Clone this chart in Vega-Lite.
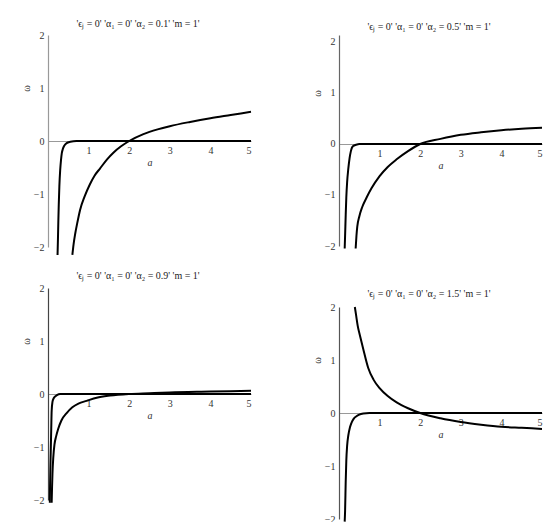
{
  "$schema": "https://vega.github.io/schema/vega-lite/v6.json",
  "padding": {"left": 21, "top": 19, "right": 0, "bottom": 0},
  "config": {
    "view": {"stroke": null},
    "font": "Liberation Serif",
    "title": {"font": "Liberation Serif", "fontSize": 10, "fontWeight": "normal", "color": "#222", "anchor": "middle", "frame": "bounds", "offset": 1},
    "axis": {"labelFont": "Liberation Serif", "labelFontSize": 10, "labelColor": "#333", "ticks": false, "grid": false, "domainColor": "#999", "domainWidth": 1.2, "labelPadding": 4, "titleFont": "Liberation Serif", "titleFontSize": 10, "titleFontWeight": "normal", "titleColor": "#333"},
    "line": {"color": "black", "strokeWidth": 2, "interpolate": "monotone"}
  },
  "spacing": 57,
  "hconcat": [
    {
      "spacing": 12,
      "vconcat": [
        {
          "width": 203, "height": 212,
          "title": {"text": "'ϵⱼ = 0' 'α₁ = 0' 'α₂ = 0.1' 'm = 1'", "offset": 1},
          "data": {"values": [
            {"curve": "A", "a": 0.235, "w": -2.15}, {"curve": "A", "a": 0.245, "w": -1.85}, {"curve": "A", "a": 0.255, "w": -1.5}, {"curve": "A", "a": 0.265, "w": -1.2}, {"curve": "A", "a": 0.28, "w": -0.85}, {"curve": "A", "a": 0.3, "w": -0.55}, {"curve": "A", "a": 0.32, "w": -0.36}, {"curve": "A", "a": 0.34, "w": -0.23}, {"curve": "A", "a": 0.37, "w": -0.14}, {"curve": "A", "a": 0.4, "w": -0.09}, {"curve": "A", "a": 0.46, "w": -0.04}, {"curve": "A", "a": 0.55, "w": -0.015}, {"curve": "A", "a": 0.7, "w": 0}, {"curve": "A", "a": 1, "w": 0}, {"curve": "A", "a": 2, "w": 0}, {"curve": "A", "a": 3, "w": 0}, {"curve": "A", "a": 4, "w": 0}, {"curve": "A", "a": 5, "w": 0},
            {"curve": "B", "a": 0.6, "w": -2.15}, {"curve": "B", "a": 0.63, "w": -1.95}, {"curve": "B", "a": 0.67, "w": -1.75}, {"curve": "B", "a": 0.72, "w": -1.55}, {"curve": "B", "a": 0.79, "w": -1.3}, {"curve": "B", "a": 0.9, "w": -1.05}, {"curve": "B", "a": 1.03, "w": -0.82}, {"curve": "B", "a": 1.15, "w": -0.65}, {"curve": "B", "a": 1.28, "w": -0.52}, {"curve": "B", "a": 1.45, "w": -0.35}, {"curve": "B", "a": 1.61, "w": -0.22}, {"curve": "B", "a": 1.8, "w": -0.1}, {"curve": "B", "a": 2.0, "w": 0}, {"curve": "B", "a": 2.35, "w": 0.13}, {"curve": "B", "a": 2.7, "w": 0.22}, {"curve": "B", "a": 3.0, "w": 0.28}, {"curve": "B", "a": 3.5, "w": 0.36}, {"curve": "B", "a": 4.0, "w": 0.43}, {"curve": "B", "a": 4.5, "w": 0.49}, {"curve": "B", "a": 5.0, "w": 0.55}
          ]},
          "mark": {"type": "line"},
          "encoding": {
            "x": {"field": "a", "type": "quantitative", "scale": {"domain": [0, 5], "nice": false, "zero": false}, "axis": {"values": [1, 2, 3, 4, 5], "offset": -106, "title": "a", "titleFontStyle": "italic", "titlePadding": 2}},
            "y": {"field": "w", "type": "quantitative", "scale": {"domain": [-2, 2], "nice": false}, "axis": {"values": [-2, -1, 0, 1, 2], "title": "ω", "titleAngle": 270, "titleX": -22, "titleY": 53, "titleAlign": "center", "titleBaseline": "middle"}},
            "detail": {"field": "curve"}
          }
        },
        {
          "width": 203, "height": 212,
          "title": {"text": "'ϵⱼ = 0' 'α₁ = 0' 'α₂ = 0.9' 'm = 1'", "offset": 2},
          "data": {"values": [
            {"curve": "A", "a": 0.045, "w": -2.05}, {"curve": "A", "a": 0.05, "w": -1.75}, {"curve": "A", "a": 0.06, "w": -1.35}, {"curve": "A", "a": 0.07, "w": -1.0}, {"curve": "A", "a": 0.08, "w": -0.65}, {"curve": "A", "a": 0.09, "w": -0.32}, {"curve": "A", "a": 0.11, "w": -0.15}, {"curve": "A", "a": 0.14, "w": -0.08}, {"curve": "A", "a": 0.17, "w": -0.05}, {"curve": "A", "a": 0.22, "w": -0.02}, {"curve": "A", "a": 0.3, "w": 0}, {"curve": "A", "a": 1, "w": 0}, {"curve": "A", "a": 5, "w": 0},
            {"curve": "B", "a": 0.09, "w": -2.05}, {"curve": "B", "a": 0.1, "w": -1.75}, {"curve": "B", "a": 0.11, "w": -1.5}, {"curve": "B", "a": 0.13, "w": -1.2}, {"curve": "B", "a": 0.16, "w": -0.95}, {"curve": "B", "a": 0.2, "w": -0.8}, {"curve": "B", "a": 0.25, "w": -0.66}, {"curve": "B", "a": 0.33, "w": -0.5}, {"curve": "B", "a": 0.46, "w": -0.36}, {"curve": "B", "a": 0.6, "w": -0.25}, {"curve": "B", "a": 0.75, "w": -0.18}, {"curve": "B", "a": 0.95, "w": -0.13}, {"curve": "B", "a": 1.2, "w": -0.07}, {"curve": "B", "a": 1.53, "w": -0.03}, {"curve": "B", "a": 2.0, "w": 0}, {"curve": "B", "a": 2.5, "w": 0.015}, {"curve": "B", "a": 3.0, "w": 0.03}, {"curve": "B", "a": 4.0, "w": 0.045}, {"curve": "B", "a": 5.0, "w": 0.06}
          ]},
          "mark": {"type": "line"},
          "encoding": {
            "x": {"field": "a", "type": "quantitative", "scale": {"domain": [0, 5], "nice": false, "zero": false}, "axis": {"values": [1, 2, 3, 4, 5], "offset": -106, "title": "a", "titleFontStyle": "italic", "titlePadding": 2}},
            "y": {"field": "w", "type": "quantitative", "scale": {"domain": [-2, 2], "nice": false}, "axis": {"values": [-2, -1, 0, 1, 2], "title": "ω", "titleAngle": 270, "titleX": -22, "titleY": 53, "titleAlign": "center", "titleBaseline": "middle", "domainColor": "#444"}},
            "detail": {"field": "curve"}
          }
        }
      ]
    },
    {
      "spacing": 36,
      "vconcat": [
        {
          "width": 203, "height": 211,
          "title": {"text": "'ϵⱼ = 0' 'α₁ = 0' 'α₂ = 0.5' 'm = 1'", "offset": 3},
          "data": {"values": [
            {"curve": "A", "a": 0.14, "w": -2.05}, {"curve": "A", "a": 0.15, "w": -1.8}, {"curve": "A", "a": 0.165, "w": -1.4}, {"curve": "A", "a": 0.18, "w": -1.05}, {"curve": "A", "a": 0.2, "w": -0.75}, {"curve": "A", "a": 0.23, "w": -0.48}, {"curve": "A", "a": 0.26, "w": -0.28}, {"curve": "A", "a": 0.29, "w": -0.15}, {"curve": "A", "a": 0.31, "w": -0.09}, {"curve": "A", "a": 0.35, "w": -0.04}, {"curve": "A", "a": 0.42, "w": -0.015}, {"curve": "A", "a": 0.5, "w": 0}, {"curve": "A", "a": 1, "w": 0}, {"curve": "A", "a": 5, "w": 0},
            {"curve": "B", "a": 0.41, "w": -2.05}, {"curve": "B", "a": 0.43, "w": -1.8}, {"curve": "B", "a": 0.45, "w": -1.62}, {"curve": "B", "a": 0.5, "w": -1.42}, {"curve": "B", "a": 0.57, "w": -1.24}, {"curve": "B", "a": 0.68, "w": -1.05}, {"curve": "B", "a": 0.8, "w": -0.87}, {"curve": "B", "a": 1.0, "w": -0.63}, {"curve": "B", "a": 1.2, "w": -0.45}, {"curve": "B", "a": 1.42, "w": -0.3}, {"curve": "B", "a": 1.7, "w": -0.14}, {"curve": "B", "a": 2.0, "w": 0}, {"curve": "B", "a": 2.5, "w": 0.1}, {"curve": "B", "a": 3.0, "w": 0.18}, {"curve": "B", "a": 3.5, "w": 0.23}, {"curve": "B", "a": 4.0, "w": 0.27}, {"curve": "B", "a": 4.5, "w": 0.3}, {"curve": "B", "a": 5.0, "w": 0.32}
          ]},
          "mark": {"type": "line"},
          "encoding": {
            "x": {"field": "a", "type": "quantitative", "scale": {"domain": [0, 5], "nice": false, "zero": false}, "axis": {"values": [1, 2, 3, 4, 5], "offset": -102, "title": "a", "titleFontStyle": "italic", "titlePadding": 2}},
            "y": {"field": "w", "type": "quantitative", "scale": {"domain": [-2, 2.137], "nice": false}, "axis": {"values": [-2, -1, 0, 1, 2], "title": "ω", "titleAngle": 270, "titleX": -22, "titleY": 58, "titleAlign": "center", "titleBaseline": "middle", "domainColor": "#666"}},
            "detail": {"field": "curve"}
          }
        },
        {
          "width": 203, "height": 212,
          "title": {"text": "'ϵⱼ = 0' 'α₁ = 0' 'α₂ = 1.5' 'm = 1'", "offset": 3},
          "data": {"values": [
            {"curve": "A", "a": 0.14, "w": -2.05}, {"curve": "A", "a": 0.15, "w": -1.85}, {"curve": "A", "a": 0.165, "w": -1.3}, {"curve": "A", "a": 0.18, "w": -0.9}, {"curve": "A", "a": 0.2, "w": -0.62}, {"curve": "A", "a": 0.23, "w": -0.42}, {"curve": "A", "a": 0.27, "w": -0.27}, {"curve": "A", "a": 0.31, "w": -0.18}, {"curve": "A", "a": 0.36, "w": -0.11}, {"curve": "A", "a": 0.43, "w": -0.06}, {"curve": "A", "a": 0.5, "w": -0.03}, {"curve": "A", "a": 0.6, "w": -0.01}, {"curve": "A", "a": 0.75, "w": 0}, {"curve": "A", "a": 1, "w": 0}, {"curve": "A", "a": 5, "w": 0},
            {"curve": "B", "a": 0.39, "w": 2.0}, {"curve": "B", "a": 0.42, "w": 1.85}, {"curve": "B", "a": 0.46, "w": 1.65}, {"curve": "B", "a": 0.52, "w": 1.45}, {"curve": "B", "a": 0.6, "w": 1.2}, {"curve": "B", "a": 0.72, "w": 0.85}, {"curve": "B", "a": 0.85, "w": 0.63}, {"curve": "B", "a": 1.0, "w": 0.47}, {"curve": "B", "a": 1.2, "w": 0.32}, {"curve": "B", "a": 1.42, "w": 0.2}, {"curve": "B", "a": 1.7, "w": 0.09}, {"curve": "B", "a": 2.0, "w": 0}, {"curve": "B", "a": 2.5, "w": -0.1}, {"curve": "B", "a": 3.0, "w": -0.17}, {"curve": "B", "a": 3.5, "w": -0.22}, {"curve": "B", "a": 4.0, "w": -0.26}, {"curve": "B", "a": 4.5, "w": -0.28}, {"curve": "B", "a": 5.0, "w": -0.3}
          ]},
          "mark": {"type": "line"},
          "encoding": {
            "x": {"field": "a", "type": "quantitative", "scale": {"domain": [0, 5], "nice": false, "zero": false}, "axis": {"values": [1, 2, 3, 4, 5], "offset": -106, "title": "a", "titleFontStyle": "italic", "titlePadding": 2}},
            "y": {"field": "w", "type": "quantitative", "scale": {"domain": [-2, 2], "nice": false}, "axis": {"values": [-2, -1, 0, 1, 2], "title": "ω", "titleAngle": 270, "titleX": -22, "titleY": 53, "titleAlign": "center", "titleBaseline": "middle", "domainColor": "#555"}},
            "detail": {"field": "curve"}
          }
        }
      ]
    }
  ]
}
